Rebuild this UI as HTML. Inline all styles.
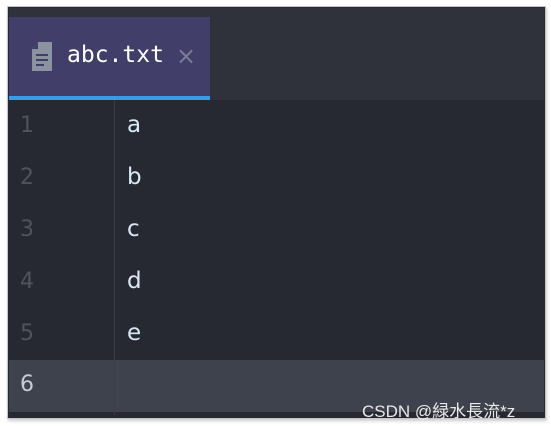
<!DOCTYPE html>
<html><head><style>
body{margin:0;width:551px;height:428px;background:#fff;position:relative;overflow:hidden;font-family:"DejaVu Sans Mono","Liberation Mono",monospace}
.frame{position:absolute;left:7px;top:6px;width:537px;height:411px;border:1px solid #c4c4c4;box-shadow:1px 2px 3px #ccc;background:#262931}
.top{position:absolute;left:9px;top:8px;width:535px;height:92px;background:#2f323b}
.tab{position:absolute;left:9px;top:17px;width:201px;height:79px;background:#413f69}
.bar{position:absolute;left:9px;top:96px;width:201px;height:4px;background:#3a9be8}
.line{position:absolute;left:9px;height:52px;width:535px}
.ln{position:absolute;left:20px;font-size:22px;color:#4f535c;font-family:"DejaVu Sans","Liberation Sans",sans-serif}
.tx{position:absolute;left:127px;font-size:23px;color:#d8e8f5;font-family:"DejaVu Sans","Liberation Sans",sans-serif}
.gut{position:absolute;left:114px;top:100px;width:1px;height:315px;background:#3b3e47}
</style></head><body>
<div class="frame"></div>
<div class="top"></div>
<div class="tab"></div>
<svg style="position:absolute;left:32px;top:42px" width="20" height="29"><path d="M6 0H20V29H0V7Z" fill="#8c93a0"/><path d="M0 7H6V0Z" fill="#413f69"/><rect x="4" y="12" width="12" height="2" fill="#413f69"/><rect x="4" y="17" width="12" height="2" fill="#413f69"/><rect x="4" y="22" width="8" height="2" fill="#413f69"/></svg>
<div style="position:absolute;left:67px;top:42px;font-size:23px;color:#fff">abc.txt</div>
<div style="position:absolute;left:176px;top:42px;font-size:24px;color:#7a7d99;font-family:'DejaVu Sans',sans-serif">×</div>
<div class="bar"></div>
<div class="line" style="top:360px;background:#3e424c"></div>
<div class="gut"></div>
<div class="ln" style="top:113px">1</div><div class="tx" style="top:112px">a</div>
<div class="ln" style="top:165px">2</div><div class="tx" style="top:164px">b</div>
<div class="ln" style="top:217px">3</div><div class="tx" style="top:216px">c</div>
<div class="ln" style="top:269px">4</div><div class="tx" style="top:268px">d</div>
<div class="ln" style="top:321px">5</div><div class="tx" style="top:320px">e</div>
<div class="ln" style="top:372px;color:#c8ccd4">6</div>
<div style="position:absolute;left:362px;top:397px;font-size:17px;color:#e8e8e8;font-family:'Liberation Sans','Noto Sans CJK SC',sans-serif">CSDN @緑水長流*z</div>
</body></html>
